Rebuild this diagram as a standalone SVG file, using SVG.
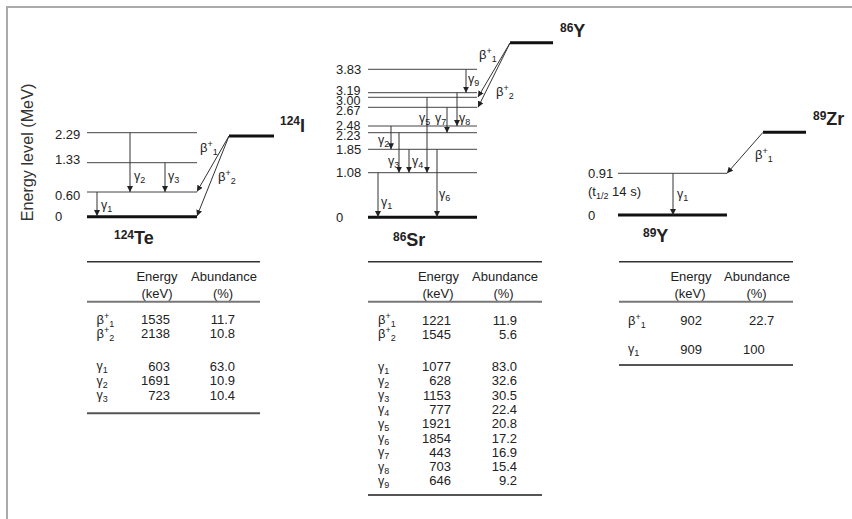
<svg xmlns="http://www.w3.org/2000/svg" width="852" height="519" viewBox="0 0 852 519">
<defs>
<marker id="ah" viewBox="0 0 6 6" refX="6" refY="3" markerWidth="6" markerHeight="6" markerUnits="userSpaceOnUse" orient="auto"><path d="M0,0 L6,3 L0,6 z" fill="#222"/></marker>
<style>
text{font-family:"Liberation Sans",Arial,sans-serif;fill:#222}
.t{font-size:13px}
.tl{font-size:12.5px}
.g{font-size:12.5px}
.s{font-size:9px}
.nuc{font-weight:bold}
.lvl{stroke:#444;stroke-width:1}
.gnd{stroke:#111;stroke-width:3}
.arr{stroke:#333;stroke-width:1;fill:none;marker-end:url(#ah)}
.r1{stroke:#333;stroke-width:1.5}
.r2{stroke:#777;stroke-width:2}
.r3{stroke:#555;stroke-width:2}
.e{text-anchor:end}
.m{text-anchor:middle}
</style>
</defs>
<rect width="852" height="519" fill="#fff"/>
<path d="M7,519 V7 H852" fill="none" stroke="#aaa" stroke-width="2"/>
<text transform="translate(33,152.5) rotate(-90)" class="m" style="font-size:16.2px;fill:#333">Energy level (MeV)</text>

<g id="i124">
<line class="lvl" x1="87" y1="132.7" x2="197" y2="132.7"/>
<line class="lvl" x1="87" y1="162.7" x2="197" y2="162.7"/>
<line class="lvl" x1="87" y1="192" x2="197" y2="192"/>
<line class="gnd" x1="87" y1="216.7" x2="197" y2="216.7"/>
<line class="gnd" x1="229" y1="136" x2="274" y2="136"/>
<text class="t" x="55" y="138.7">2.29</text>
<text class="t" x="55" y="164">1.33</text>
<text class="t" x="55" y="199.7">0.60</text>
<text class="t" x="55" y="221.4">0</text>
<text class="nuc" x="280" y="132"><tspan style="font-size:12px" dy="-7">124</tspan><tspan style="font-size:18px" dy="7">I</tspan></text>
<text class="nuc" x="114" y="244"><tspan style="font-size:12px" dy="-5">124</tspan><tspan style="font-size:18px" dy="5">Te</tspan></text>
</g>

<g id="sr86">
<line class="gnd" x1="510" y1="42.7" x2="553" y2="42.7"/>
<line class="lvl" x1="368" y1="69.3" x2="477" y2="69.3"/>
<line class="lvl" x1="368" y1="92.7" x2="477" y2="92.7"/>
<line class="lvl" x1="368" y1="97.3" x2="477" y2="97.3"/>
<line class="lvl" x1="368" y1="107.3" x2="477" y2="107.3"/>
<line class="lvl" x1="368" y1="126" x2="477" y2="126"/>
<line class="lvl" x1="368" y1="132.7" x2="477" y2="132.7"/>
<line class="lvl" x1="368" y1="149.3" x2="477" y2="149.3"/>
<line class="lvl" x1="368" y1="172.7" x2="477" y2="172.7"/>
<line class="gnd" x1="368" y1="217.3" x2="477" y2="217.3"/>
<text class="t" x="336" y="74">3.83</text>
<text class="tl" x="336" y="94.5">3.19</text>
<text class="tl" x="336" y="104.8">3.00</text>
<text class="tl" x="336" y="115">2.67</text>
<text class="tl" x="336" y="129.5">2.48</text>
<text class="tl" x="336" y="139.7">2.23</text>
<text class="t" x="336" y="154">1.85</text>
<text class="t" x="336" y="177.4">1.08</text>
<text class="t" x="336" y="222">0</text>
<text class="nuc" x="560" y="37"><tspan style="font-size:12px" dy="-5">86</tspan><tspan style="font-size:18px" dy="5">Y</tspan></text>
<text class="nuc" x="393" y="246"><tspan style="font-size:12px" dy="-5">86</tspan><tspan style="font-size:18px" dy="5">Sr</tspan></text>
</g>

<g id="y89">
<line class="gnd" x1="763" y1="132.3" x2="806" y2="132.3"/>
<line class="lvl" x1="618" y1="173.3" x2="727" y2="173.3"/>
<line class="gnd" x1="618" y1="215" x2="727" y2="215"/>
<text class="t" x="588" y="178">0.91</text>
<text class="t" x="588" y="195.7">(t<tspan class="s" dy="3">1/2</tspan><tspan dy="-3"> 14 s)</tspan></text>
<text class="t" x="588" y="219.7">0</text>
<text class="nuc" x="813" y="125"><tspan style="font-size:12px" dy="-5">89</tspan><tspan style="font-size:18px" dy="5">Zr</tspan></text>
<text class="nuc" x="643" y="242"><tspan style="font-size:12px" dy="-5">89</tspan><tspan style="font-size:18px" dy="5">Y</tspan></text>
</g>

<g id="connectors">
<line class="arr" x1="130" y1="132.7" x2="130" y2="192"/>
<line class="arr" x1="165" y1="162.7" x2="165" y2="192"/>
<line class="arr" x1="97" y1="192" x2="97" y2="216"/>
<line class="arr" x1="229" y1="136" x2="197" y2="191.5"/>
<line class="arr" x1="229" y1="136" x2="197" y2="216"/>
<line class="arr" x1="510" y1="43" x2="478" y2="97"/>
<line class="arr" x1="510" y1="43" x2="478" y2="107.3"/>
<line class="arr" x1="466" y1="69.3" x2="466" y2="92.7"/>
<line class="arr" x1="457" y1="92.7" x2="457" y2="126"/>
<line class="arr" x1="447" y1="107.3" x2="447" y2="132.7"/>
<line class="arr" x1="427" y1="97.3" x2="427" y2="172.7"/>
<line class="arr" x1="391" y1="126" x2="391" y2="149.3"/>
<line class="arr" x1="399" y1="132.7" x2="399" y2="172.7"/>
<line class="arr" x1="409" y1="149.3" x2="409" y2="172.7"/>
<line class="arr" x1="437" y1="149.3" x2="437" y2="217"/>
<line class="arr" x1="378" y1="172.7" x2="378" y2="217"/>
<line class="arr" x1="763" y1="132.3" x2="727" y2="173.3"/>
<line class="arr" x1="673" y1="173.3" x2="673" y2="215"/>
</g>

<g id="labels">
<text class="g" x="134" y="180">γ<tspan class="s" dy="3">2</tspan></text>
<text class="g" x="168" y="180">γ<tspan class="s" dy="3">3</tspan></text>
<text class="g" x="101" y="209">γ<tspan class="s" dy="3">1</tspan></text>
<text class="t" x="200" y="152">β<tspan class="s" dy="-5">+</tspan><tspan class="s" dy="8">1</tspan></text>
<text class="t" x="218" y="180.5">β<tspan class="s" dy="-5">+</tspan><tspan class="s" dy="8">2</tspan></text>
<text class="t" x="479" y="59">β<tspan class="s" dy="-5">+</tspan><tspan class="s" dy="8">1</tspan></text>
<text class="t" x="496" y="95.5">β<tspan class="s" dy="-5">+</tspan><tspan class="s" dy="8">2</tspan></text>
<text class="g" x="468" y="83">γ<tspan class="s" dy="3">9</tspan></text>
<text class="g" x="419" y="122">γ<tspan class="s" dy="3">5</tspan></text>
<text class="g" x="435" y="122">γ<tspan class="s" dy="3">7</tspan></text>
<text class="g" x="459" y="122">γ<tspan class="s" dy="3">8</tspan></text>
<text class="g" x="378" y="144">γ<tspan class="s" dy="3">2</tspan></text>
<text class="g" x="388" y="164.5">γ<tspan class="s" dy="3">3</tspan></text>
<text class="g" x="412" y="164.5">γ<tspan class="s" dy="3">4</tspan></text>
<text class="g" x="439" y="198">γ<tspan class="s" dy="3">6</tspan></text>
<text class="g" x="381" y="206">γ<tspan class="s" dy="3">1</tspan></text>
<text class="t" x="755" y="159">β<tspan class="s" dy="-5">+</tspan><tspan class="s" dy="8">1</tspan></text>
<text class="g" x="677" y="198">γ<tspan class="s" dy="3">1</tspan></text>
</g>

<g id="table-i124">
<line class="r1" x1="87" y1="261.7" x2="260" y2="261.7"/>
<text class="t m" x="157" y="280.5">Energy</text>
<text class="t m" x="157" y="297.5">(keV)</text>
<text class="t m" x="224" y="280.5">Abundance</text>
<text class="t m" x="223" y="297.5">(%)</text>
<line class="r2" x1="87" y1="301.7" x2="260" y2="301.7"/>
<text class="t" x="96.5" y="323.5">β<tspan class="s" dy="-5">+</tspan><tspan class="s" dy="8">1</tspan></text>
<text class="t" x="96.5" y="337.5">β<tspan class="s" dy="-5">+</tspan><tspan class="s" dy="8">2</tspan></text>
<text class="g" x="96.5" y="370">γ<tspan class="s" dy="3">1</tspan></text>
<text class="g" x="96.5" y="384.5">γ<tspan class="s" dy="3">2</tspan></text>
<text class="g" x="96.5" y="399">γ<tspan class="s" dy="3">3</tspan></text>
<text class="t e" x="170" y="323.5">1535</text>
<text class="t e" x="170" y="337.5">2138</text>
<text class="t e" x="170" y="370.5">603</text>
<text class="t e" x="170" y="385">1691</text>
<text class="t e" x="170" y="399.5">723</text>
<text class="t e" x="235" y="323.5">11.7</text>
<text class="t e" x="235" y="337.5">10.8</text>
<text class="t e" x="235" y="370.5">63.0</text>
<text class="t e" x="235" y="385">10.9</text>
<text class="t e" x="235" y="399.5">10.4</text>
<line class="r3" x1="87" y1="413.3" x2="260" y2="413.3"/>
</g>

<g id="table-y86">
<line class="r1" x1="368" y1="261.7" x2="542" y2="261.7"/>
<text class="t m" x="438.5" y="280.5">Energy</text>
<text class="t m" x="438" y="297.5">(keV)</text>
<text class="t m" x="505" y="280.5">Abundance</text>
<text class="t m" x="503.5" y="297.5">(%)</text>
<line class="r2" x1="368" y1="301.7" x2="542" y2="301.7"/>
<text class="t" x="378" y="324">β<tspan class="s" dy="-5">+</tspan><tspan class="s" dy="8">1</tspan></text>
<text class="t" x="378" y="338">β<tspan class="s" dy="-5">+</tspan><tspan class="s" dy="8">2</tspan></text>
<text class="g" x="378" y="370.5">γ<tspan class="s" dy="3">1</tspan></text>
<text class="g" x="378" y="384.8">γ<tspan class="s" dy="3">2</tspan></text>
<text class="g" x="378" y="399.1">γ<tspan class="s" dy="3">3</tspan></text>
<text class="g" x="378" y="413.4">γ<tspan class="s" dy="3">4</tspan></text>
<text class="g" x="378" y="427.7">γ<tspan class="s" dy="3">5</tspan></text>
<text class="g" x="378" y="442">γ<tspan class="s" dy="3">6</tspan></text>
<text class="g" x="378" y="456.3">γ<tspan class="s" dy="3">7</tspan></text>
<text class="g" x="378" y="470.6">γ<tspan class="s" dy="3">8</tspan></text>
<text class="g" x="378" y="484.9">γ<tspan class="s" dy="3">9</tspan></text>
<text class="t e" x="451" y="324.5">1221</text>
<text class="t e" x="451" y="338.5">1545</text>
<text class="t e" x="451" y="371">1077</text>
<text class="t e" x="451" y="385.3">628</text>
<text class="t e" x="451" y="399.6">1153</text>
<text class="t e" x="451" y="413.9">777</text>
<text class="t e" x="451" y="428.2">1921</text>
<text class="t e" x="451" y="442.5">1854</text>
<text class="t e" x="451" y="456.8">443</text>
<text class="t e" x="451" y="471.1">703</text>
<text class="t e" x="451" y="485.4">646</text>
<text class="t e" x="517" y="324.5">11.9</text>
<text class="t e" x="517" y="338.5">5.6</text>
<text class="t e" x="517" y="371">83.0</text>
<text class="t e" x="517" y="385.3">32.6</text>
<text class="t e" x="517" y="399.6">30.5</text>
<text class="t e" x="517" y="413.9">22.4</text>
<text class="t e" x="517" y="428.2">20.8</text>
<text class="t e" x="517" y="442.5">17.2</text>
<text class="t e" x="517" y="456.8">16.9</text>
<text class="t e" x="517" y="471.1">15.4</text>
<text class="t e" x="517" y="485.4">9.2</text>
<line class="r3" x1="368" y1="495" x2="542" y2="495"/>
</g>

<g id="table-zr89">
<line class="r1" x1="619" y1="261.7" x2="793" y2="261.7"/>
<text class="t m" x="691" y="280.5">Energy</text>
<text class="t m" x="690" y="297.5">(keV)</text>
<text class="t m" x="757" y="280.5">Abundance</text>
<text class="t m" x="756.5" y="297.5">(%)</text>
<line class="r2" x1="619" y1="301.7" x2="793" y2="301.7"/>
<text class="t" x="628" y="324.5">β<tspan class="s" dy="-5">+</tspan><tspan class="s" dy="8">1</tspan></text>
<text class="g" x="628" y="352.5">γ<tspan class="s" dy="3">1</tspan></text>
<text class="t e" x="702" y="324.5">902</text>
<text class="t e" x="702" y="353.5">909</text>
<text class="t" x="749" y="324.5">22.7</text>
<text class="t" x="743" y="353.5">100</text>
<line class="r3" x1="619" y1="365" x2="793" y2="365"/>
</g>
</svg>
